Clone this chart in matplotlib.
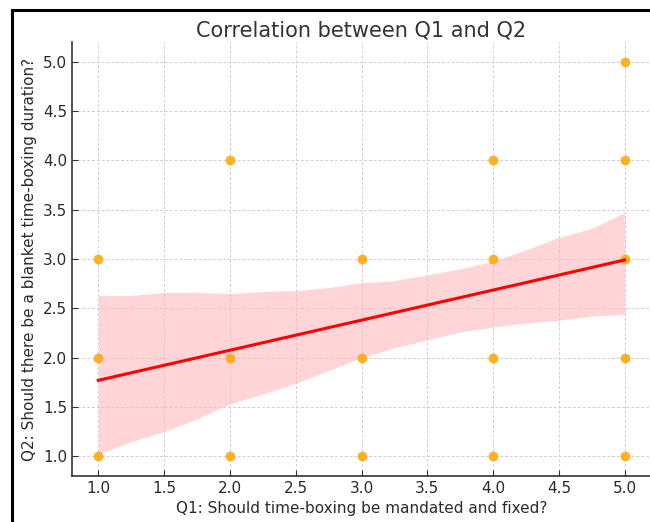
import matplotlib
matplotlib.use("Agg")
import matplotlib.pyplot as plt
from matplotlib.lines import Line2D

# Survey responses (unique answer pairs)
q1 = [1, 1, 1, 2, 2, 2, 3, 3, 3, 4, 4, 4, 4, 5, 5, 5, 5, 5]
q2 = [1, 2, 3, 1, 2, 4, 1, 2, 3, 1, 2, 3, 4, 1, 2, 3, 4, 5]

# Regression fit line
fit_x = [1.0, 5.0]
fit_y = [1.77, 2.99]

# Confidence band
band_x = [1.0, 1.25, 1.5, 1.75, 2.0, 2.25, 2.5, 2.75, 3.0, 3.25, 3.5, 3.75, 4.0, 4.25, 4.5, 4.75, 5.0]
band_lo = [1.02, 1.15, 1.25, 1.38, 1.53, 1.63, 1.74, 1.87, 2.00, 2.10, 2.18, 2.26, 2.31, 2.35, 2.38, 2.42, 2.44]
band_hi = [2.63, 2.63, 2.66, 2.66, 2.65, 2.67, 2.68, 2.71, 2.76, 2.78, 2.84, 2.90, 2.98, 3.09, 3.22, 3.31, 3.47]

xticks = [1.0, 1.5, 2.0, 2.5, 3.0, 3.5, 4.0, 4.5, 5.0]
yticks = [1.0, 1.5, 2.0, 2.5, 3.0, 3.5, 4.0, 4.5, 5.0]

fig = plt.figure(figsize=(6.5, 5.22), dpi=100)
ax = fig.add_axes([72/650, 46/522, 579/650, 434/522])

ax.fill_between(band_x, band_lo, band_hi, color="#ffb3b8", alpha=0.55, linewidth=0, zorder=1)
ax.scatter(q1, q2, s=50, color="#FFA500", alpha=0.85, linewidths=0, zorder=3)
ax.plot(fit_x, fit_y, color="red", linewidth=2.2, zorder=4)

ax.set_xlim(0.8, 5.2)
ax.set_ylim(0.8, 5.2)
ax.set_xticks(xticks)
ax.set_yticks(yticks)
ax.set_xticklabels([f"{v:.1f}" for v in xticks])
ax.set_yticklabels([f"{v:.1f}" for v in yticks])
ax.grid(True, linestyle=(0, (3, 2)), color="#d0d0d0", linewidth=0.7, zorder=0)
ax.set_axisbelow(True)
ax.tick_params(direction="in", length=4, colors="#333333", labelsize=11, labelcolor="#2a2a2a")
for s in ["top", "right"]:
    ax.spines[s].set_visible(False)
for s in ["left", "bottom"]:
    ax.spines[s].set_color("#333333")
    ax.spines[s].set_linewidth(1.2)

ax.set_title("Correlation between Q1 and Q2", fontsize=15, color="#333333", pad=4)
ax.set_xlabel("Q1: Should time-boxing be mandated and fixed?", fontsize=11, color="#2a2a2a", labelpad=4)
ax.set_ylabel("Q2: Should there be a blanket time-boxing duration?", fontsize=11, color="#2a2a2a", labelpad=4)

# screenshot frame
fig.add_artist(Line2D([11.5/650, 11.5/650], [0, 1 - 9.5/522], transform=fig.transFigure, color="black", linewidth=2.2))
fig.add_artist(Line2D([11.5/650, 1.0], [1 - 9.5/522, 1 - 9.5/522], transform=fig.transFigure, color="black", linewidth=2.2))

fig.savefig("out.png", dpi=100)
